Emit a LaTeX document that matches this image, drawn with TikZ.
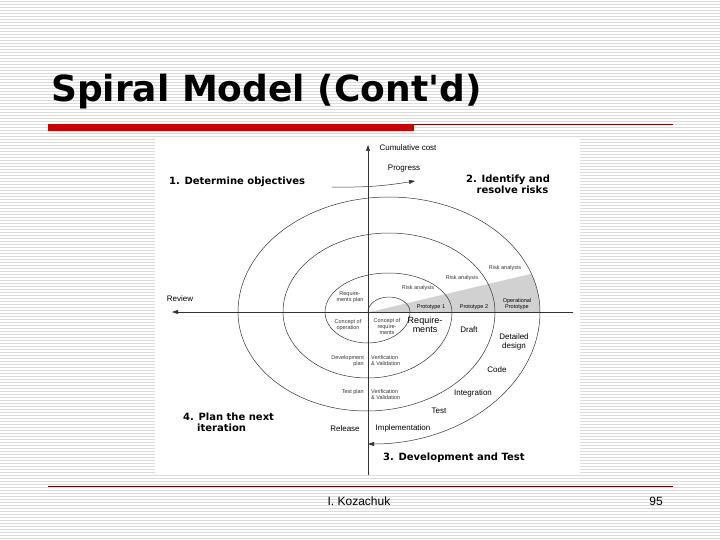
\documentclass[tikz,border=0pt]{standalone}
\usepackage{fontspec}
\setmainfont{Liberation Sans}
\newfontfamily\djv{DejaVu Sans}
\usetikzlibrary{arrows.meta}
\begin{document}
\begin{tikzpicture}[x=1pt,y=-1pt,
  sp/.style={line width=0.5pt,black!80},
  lbl/.style={font=\fontsize{8}{9}\selectfont,align=center,inner sep=0pt},
  tiny/.style={font=\fontsize{5.5}{6}\selectfont,align=center,inner sep=0pt,text=black!80},
  big/.style={font=\djv\fontsize{10}{11}\selectfont\bfseries,align=left,inner sep=0pt,anchor=west},
  foot/.style={font=\fontsize{12}{13}\selectfont,inner sep=0pt}]
\useasboundingbox (0,0) rectangle (720,540);
\fill[white] (0,0) rectangle (720,540);
\foreach \y in {1,4,...,540} \draw[black!14,line width=0.9pt] (0,\y) -- (720,\y);
% title
\node[anchor=west,inner sep=0pt,font=\djv\fontsize{36}{38}\selectfont\bfseries] (title) at (51,92) {Spiral Model (Cont\textquotesingle d)};
\fill[red!80!black] (48,124) rectangle (414,131);
\draw[red!50!black,line width=0.7pt] (414,124) -- (673,124);
% image
\fill[white] (155,138) rectangle (580,475);
% gray wedge
\begin{scope}
\clip (389,312) ellipse [x radius=151,y radius=115];
\fill[black!18] (370,312) -- (560,267) -- (560,312) -- cycle;
\end{scope}
% axes
\coordinate (ax0) at (368,475);
\coordinate (ax1) at (368,145);
\coordinate (ay0) at (573,312);
\coordinate (ay1) at (172,312);
\draw[sp,-{Triangle[length=6pt,width=4pt]}] (ax0) -- (ax1);
\draw[sp,-{Triangle[length=6pt,width=4pt]}] (ay0) -- (ay1);
% spiral
\draw[sp] (368,312) arc[start angle=180,end angle=360,x radius=21,y radius=15]
  arc[start angle=0,end angle=180,x radius=42.5,y radius=31]
  arc[start angle=180,end angle=360,x radius=63.5,y radius=39]
  arc[start angle=0,end angle=180,x radius=84.5,y radius=66]
  arc[start angle=180,end angle=360,x radius=106,y radius=79]
  arc[start angle=0,end angle=180,x radius=128.5,y radius=99]
  arc[start angle=180,end angle=360,x radius=151,y radius=115];
\draw[sp,-{Triangle[length=6pt,width=4pt]}] (540,312) arc[start angle=0,end angle=90,x radius=172,y radius=132];
% progress arrow
\coordinate (p0) at (332,187);
\coordinate (p1) at (415,181);
\draw[sp,-{Triangle[length=6pt,width=4pt]}] (p0) to[bend right=5] (p1);
% labels
\node[lbl] (cc) at (408,148) {Cumulative cost};
\node[lbl] (pg) at (404,169) {Progress};
\node[big] (l1) at (169,182) {1. Determine objectives};
\node[big] (l2) at (466,184) {2. Identify and\\\ \ \ resolve risks};
\node[big] (l4) at (183,422) {4. Plan the next\\\ \ \ \ iteration};
\node[big] (l3) at (383,458) {3. Development and Test};
\node[lbl] (rv) at (180,299) {Review};
\node[tiny] (ra3) at (505,268) {Risk analysis};
\node[tiny] (ra2) at (462,278) {Risk analysis};
\node[tiny] (ra1) at (418,288) {Risk analysis};
\node[tiny] (rp) at (350,297) {Require-\\ments plan};
\node[tiny,text=black] (pr1) at (431,307) {Prototype 1};
\node[tiny,text=black] (pr2) at (474,307) {Prototype 2};
\node[tiny,text=black] (op) at (517,304) {Operational\\Prototype};
\node[tiny] (co) at (348,325) {Concept of\\operation};
\node[tiny] (cr) at (387,327) {Concept of\\require-\\ments};
\node[lbl,font=\fontsize{9}{9.5}\selectfont] (rq) at (425,325) {Require-\\ments};
\node[lbl] (dr) at (469,330) {Draft};
\node[lbl] (dd) at (514,342) {Detailed\\design};
\node[lbl] (cd) at (497,370) {Code};
\node[tiny,anchor=east,align=right] (dp) at (364,361) {Development\\plan};
\node[tiny,anchor=west,align=left] (vv1) at (371,361) {Verification\\\& Validation};
\node[tiny,anchor=east] (tp) at (364,392) {Test plan};
\node[tiny,anchor=west,align=left] (vv2) at (371,395) {Verification\\\& Validation};
\node[lbl] (ig) at (473,393) {Integration};
\node[lbl] (ts) at (439,411) {Test};
\node[lbl] (rl) at (345,429) {Release};
\node[lbl] (im) at (403,428) {Implementation};
% footer
\draw[red!40!black,line width=0.7pt] (48,486) -- (673,486);
\node[foot] (au) at (359,501) {I. Kozachuk};
\node[foot] (pn) at (656,501) {95};
\end{tikzpicture}
\end{document}
